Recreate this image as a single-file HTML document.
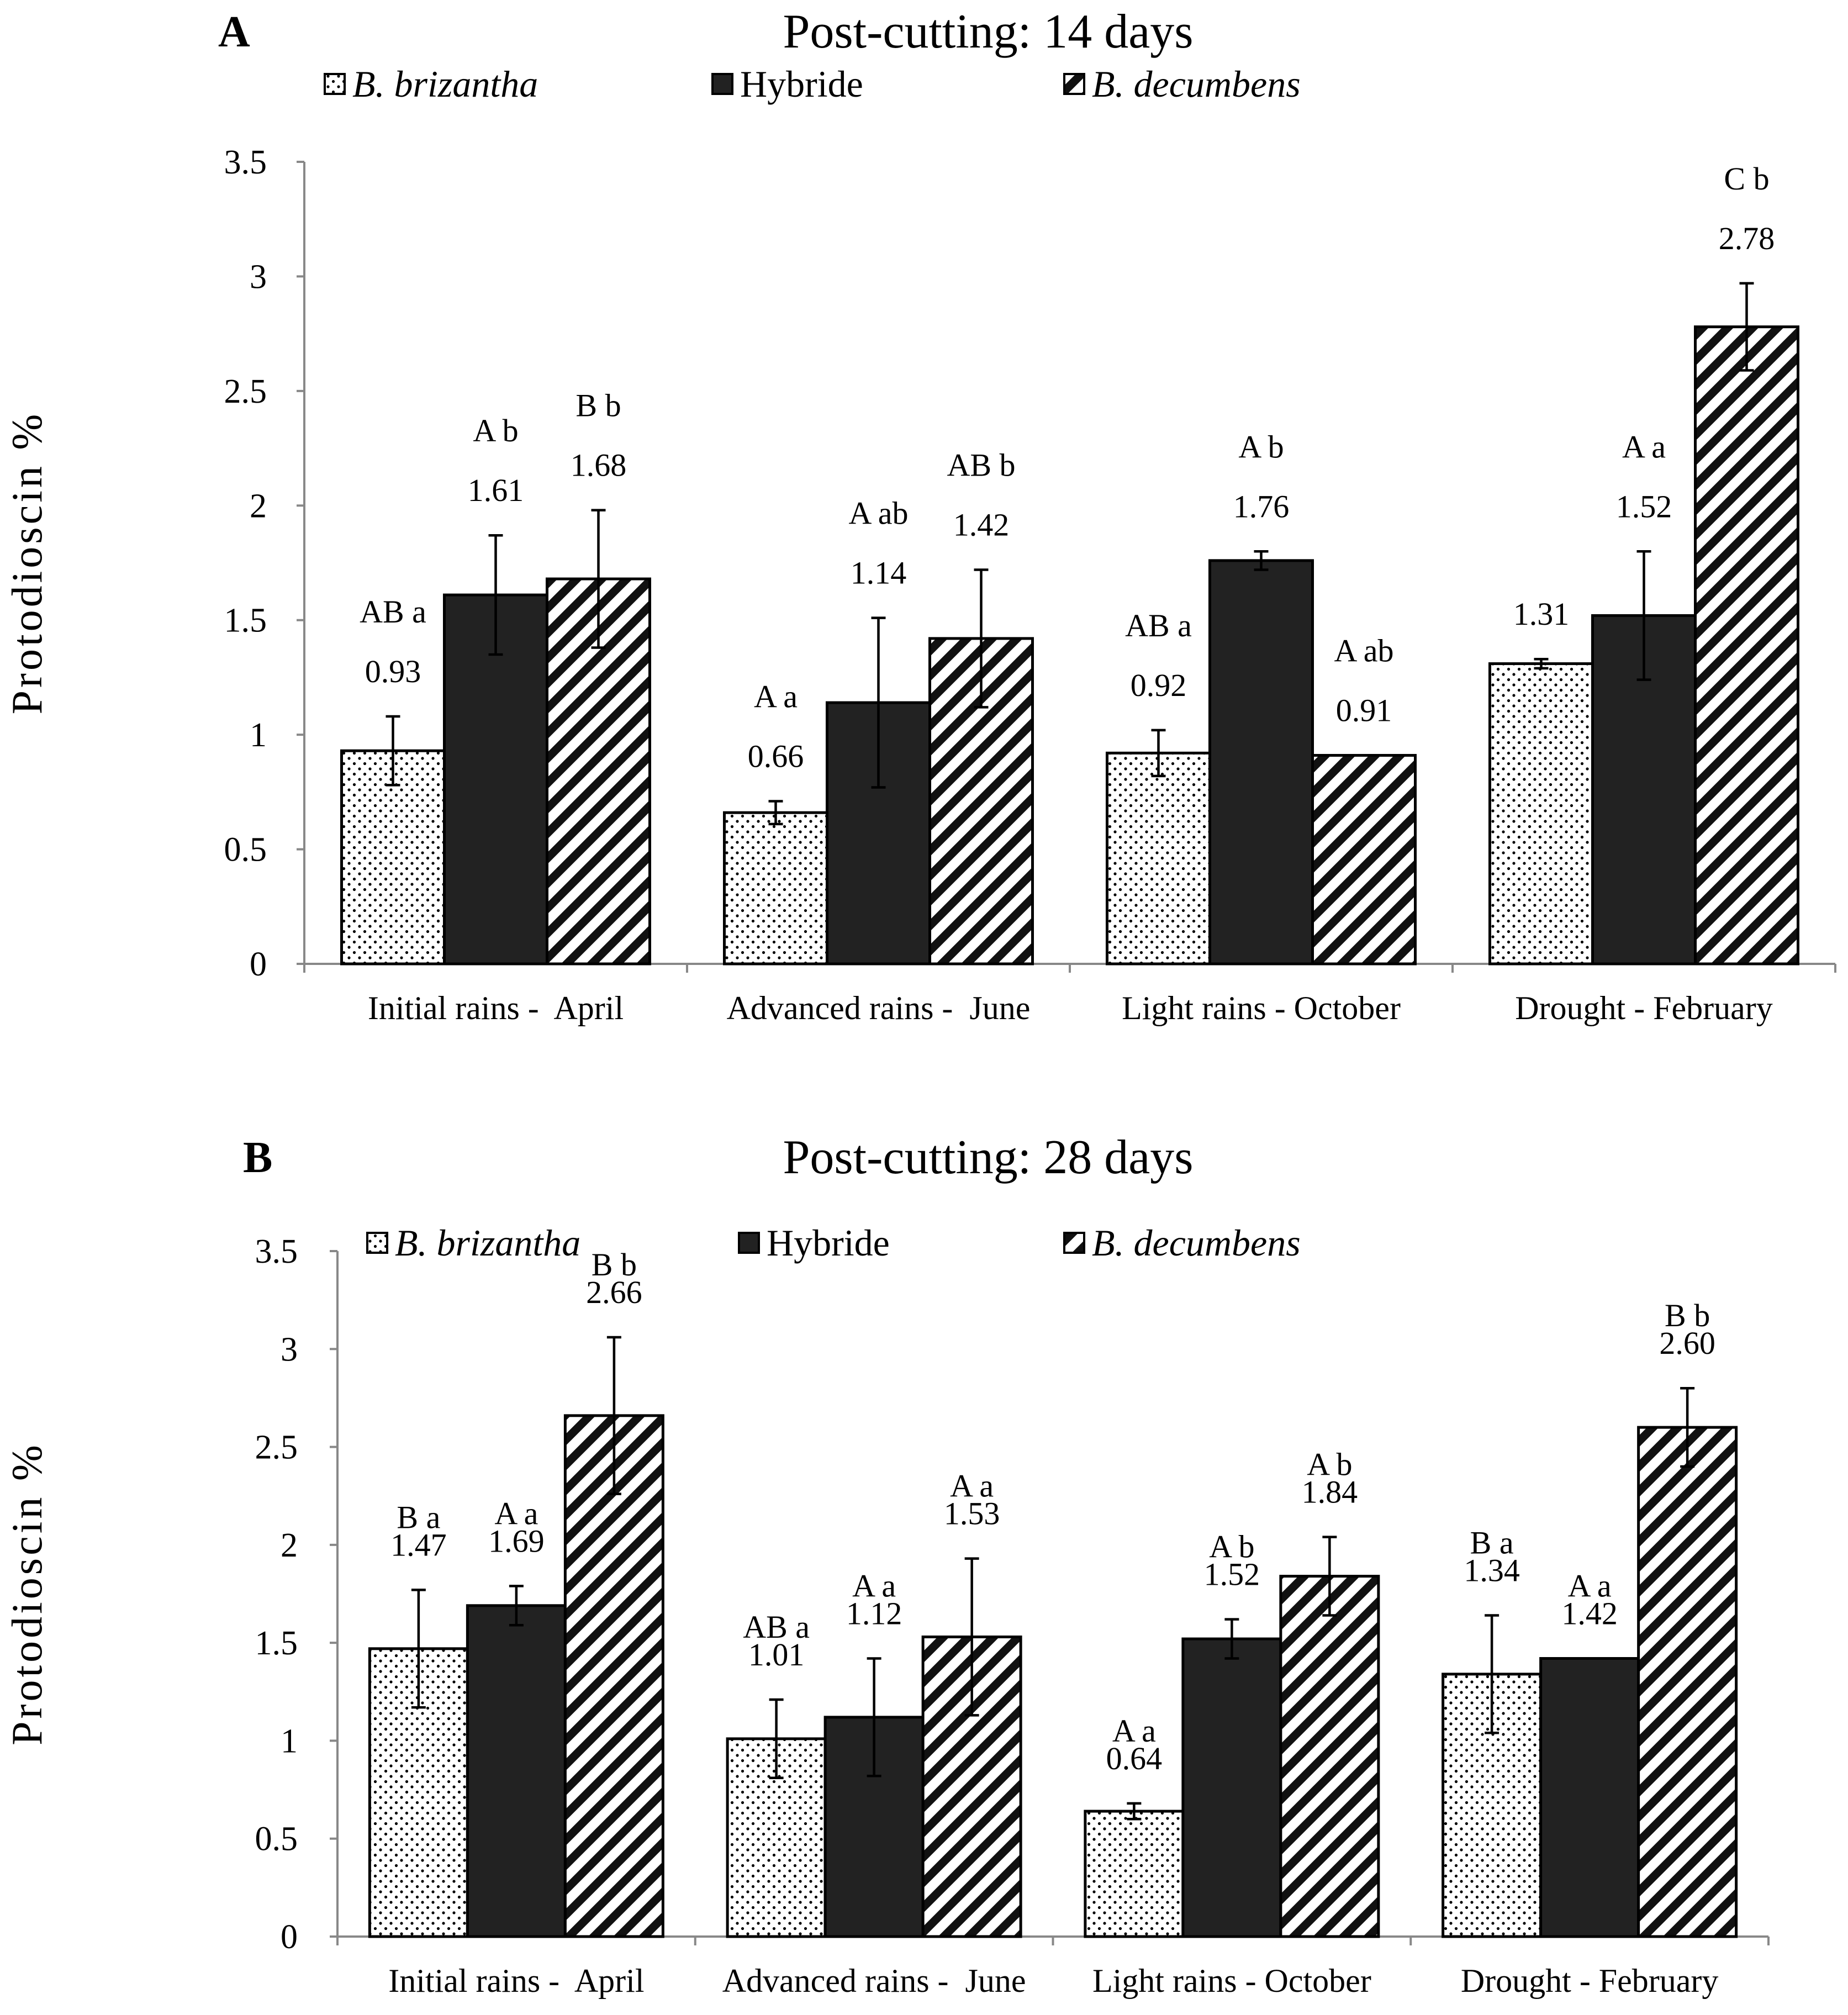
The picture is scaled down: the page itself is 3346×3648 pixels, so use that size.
<!DOCTYPE html>
<html><head><meta charset="utf-8"><style>
html,body{margin:0;padding:0;background:#fff;}
svg{display:block;font-family:"Liberation Serif",serif;}
text{white-space:pre;}
</style></head>
<body>
<svg id="chart" xmlns="http://www.w3.org/2000/svg" width="3346" height="3648" viewBox="0 0 3346 3648">
<defs>
<pattern id="dots" patternUnits="userSpaceOnUse" width="19" height="19"><rect width="19" height="19" fill="#fff"/><circle cx="5" cy="5" r="2.6" fill="#000"/><circle cx="14.5" cy="14.5" r="2.6" fill="#000"/></pattern>
<pattern id="hatch" patternUnits="userSpaceOnUse" width="32" height="32" patternTransform="rotate(45)"><rect width="32" height="32" fill="#fff"/><rect x="0" y="0" width="15" height="32" fill="#111"/></pattern>
</defs>
<g id="root"></g>
</svg>
<script>
const categories = ["Initial rains -  April","Advanced rains -  June","Light rains - October","Drought - February"];
const seriesNames = ["B. brizantha","Hybride","B. decumbens"];
const yTicks = [0,0.5,1,1.5,2,2.5,3,3.5];
const yTickLabels = ["0","0.5","1","1.5","2","2.5","3","3.5"];
// Panel A (14 days)
const aBriz = [0.93,0.66,0.92,1.31];
const aHyb = [1.61,1.14,1.76,1.52];
const aDec = [1.68,1.42,0.91,2.78];
const aBrizErr = [0.15,0.05,0.10,0.02];
const aHybErr = [0.26,0.37,0.04,0.28];
const aDecErr = [0.30,0.30,0.00,0.19];
const aBrizLet = ["AB a","A a","AB a",""];
const aHybLet = ["A b","A ab","A b","A a"];
const aDecLet = ["B b","AB b","A ab","C b"];
const aBrizTxt = ["0.93","0.66","0.92","1.31"];
const aHybTxt = ["1.61","1.14","1.76","1.52"];
const aDecTxt = ["1.68","1.42","0.91","2.78"];
// Panel B (28 days)
const bBriz = [1.47,1.01,0.64,1.34];
const bHyb = [1.69,1.12,1.52,1.42];
const bDec = [2.66,1.53,1.84,2.60];
const bBrizErr = [0.30,0.20,0.04,0.30];
const bHybErr = [0.10,0.30,0.10,0.00];
const bDecErr = [0.40,0.40,0.20,0.20];
const bBrizLet = ["B a","AB a","A a","B a"];
const bHybLet = ["A a","A a","A b","A a"];
const bDecLet = ["B b","A a","A b","B b"];
const bBrizTxt = ["1.47","1.01","0.64","1.34"];
const bHybTxt = ["1.69","1.12","1.52","1.42"];
const bDecTxt = ["2.66","1.53","1.84","2.60"];

const NS="http://www.w3.org/2000/svg";
const root=document.getElementById('root');
function mk(tag,attrs,parent,text){const e=document.createElementNS(NS,tag);for(const k in attrs)e.setAttribute(k,attrs[k]);if(text!==undefined)e.textContent=text;(parent||root).appendChild(e);return e;}
const fills=["url(#dots)","#222","url(#hatch)"];

function panel(cfg){
  const g=mk('g',{});
  
  
  const y=v=>cfg.y0-(v/3.5)*(cfg.y0-cfg.yTop);
  const catW=(cfg.xEnd-cfg.x0)/4;
  let t=mk('text',{x:cfg.letterX,y:cfg.titleY+26,'font-size':80,'font-weight':'bold'},g,cfg.letter);
  
  
  t=mk('text',{x:1789,y:cfg.titleY+28,'font-size':88,'text-anchor':'middle'},g,cfg.title);
  
  
  for(let i=0;i<3;i++){
    const lg=mk('g',{},g);
    
    
    mk('rect',{x:cfg.legBox[i],y:cfg.legY-19,width:36,height:36,fill:fills[i],stroke:'#000','stroke-width':4},lg);
    mk('text',{x:cfg.legBox[i]+50,y:cfg.legY+22,'font-size':68,'font-style':i===1?'normal':'italic'},lg,seriesNames[i]);
  }
  let ax=mk('line',{x1:cfg.x0,y1:cfg.yTop,x2:cfg.x0,y2:cfg.y0,stroke:'#888','stroke-width':4},g);
  
  
  yTicks.forEach((v,i)=>{
    mk('line',{x1:cfg.x0-14,y1:y(v),x2:cfg.x0,y2:y(v),stroke:'#888','stroke-width':4},g);
    const tl=mk('text',{x:cfg.x0-cfg.tickOff,y:y(v)+21,'font-size':62,'text-anchor':'end'},g,yTickLabels[i]);
    
    
  });
  ax=mk('line',{x1:cfg.x0,y1:cfg.y0,x2:cfg.xEnd,y2:cfg.y0,stroke:'#888','stroke-width':4},g);
  
  
  for(let c=0;c<=4;c++) mk('line',{x1:cfg.x0+c*catW,y1:cfg.y0,x2:cfg.x0+c*catW,y2:cfg.y0+16,stroke:'#888','stroke-width':4},g);
  categories.forEach((c,i)=>{
    const tl=mk('text',{x:cfg.x0+(i+0.5)*catW,y:cfg.y0+100,'font-size':60,'text-anchor':'middle'},g,c);
    
    
  });
  const yt=mk('text',{transform:`translate(75 ${(cfg.y0+cfg.yTop)/2}) rotate(-90)`,'font-size':78,'text-anchor':'middle','letter-spacing':'5'},g,'Protodioscin %');
  
  
  const bw=cfg.bw, off=(catW-3*bw)/2;
  for(let s=0;s<3;s++){
    cfg.vals[s].forEach((v,i)=>{
      const bx=cfg.x0+i*catW+off+s*bw;
      const b=mk('rect',{x:bx,y:y(v),width:bw,height:cfg.y0-y(v),fill:fills[s],stroke:'#000','stroke-width':5},g);
      
      
      const e=cfg.errs[s][i], cx=bx+bw/2;
      if(e>0){
        const eb=mk('g',{stroke:'#000','stroke-width':4.5},g);
        
        
        mk('line',{x1:cx,y1:y(v+e),x2:cx,y2:y(v-e)},eb);
        mk('line',{x1:cx-13,y1:y(v+e),x2:cx+13,y2:y(v+e)},eb);
        mk('line',{x1:cx-13,y1:y(v-e),x2:cx+13,y2:y(v-e)},eb);
      }
      const top=y(v+e);
      const vt=mk('text',{x:cx,y:top-cfg.valOff,'font-size':58,'text-anchor':'middle'},g,cfg.txt[s][i]);
      
      
      if(cfg.lets[s][i]){
        const lt=mk('text',{x:cx,y:top-cfg.valOff-cfg.letGap,'font-size':58,'text-anchor':'middle'},g,cfg.lets[s][i]);
        
        
      }
    });
  }
}
panel({name:'panel-a',letter:'A',letterX:395,title:'Post-cutting: 14 days',titleY:58,legY:153,legBox:[588,1290,1927],
  x0:551,xEnd:3323,y0:1745,yTop:293,bw:186,valOff:62,letGap:108,tickOff:68,
  vals:[aBriz,aHyb,aDec],errs:[aBrizErr,aHybErr,aDecErr],lets:[aBrizLet,aHybLet,aDecLet],txt:[aBrizTxt,aHybTxt,aDecTxt]});
panel({name:'panel-b',letter:'B',letterX:440,title:'Post-cutting: 28 days',titleY:2096,legY:2251,legBox:[665,1338,1927],
  x0:611,xEnd:3202,y0:3506,yTop:2265,bw:177,valOff:62,letGap:50,tickOff:72,
  vals:[bBriz,bHyb,bDec],errs:[bBrizErr,bHybErr,bDecErr],lets:[bBrizLet,bHybLet,bDecLet],txt:[bBrizTxt,bHybTxt,bDecTxt]});
</script>
</body></html>
